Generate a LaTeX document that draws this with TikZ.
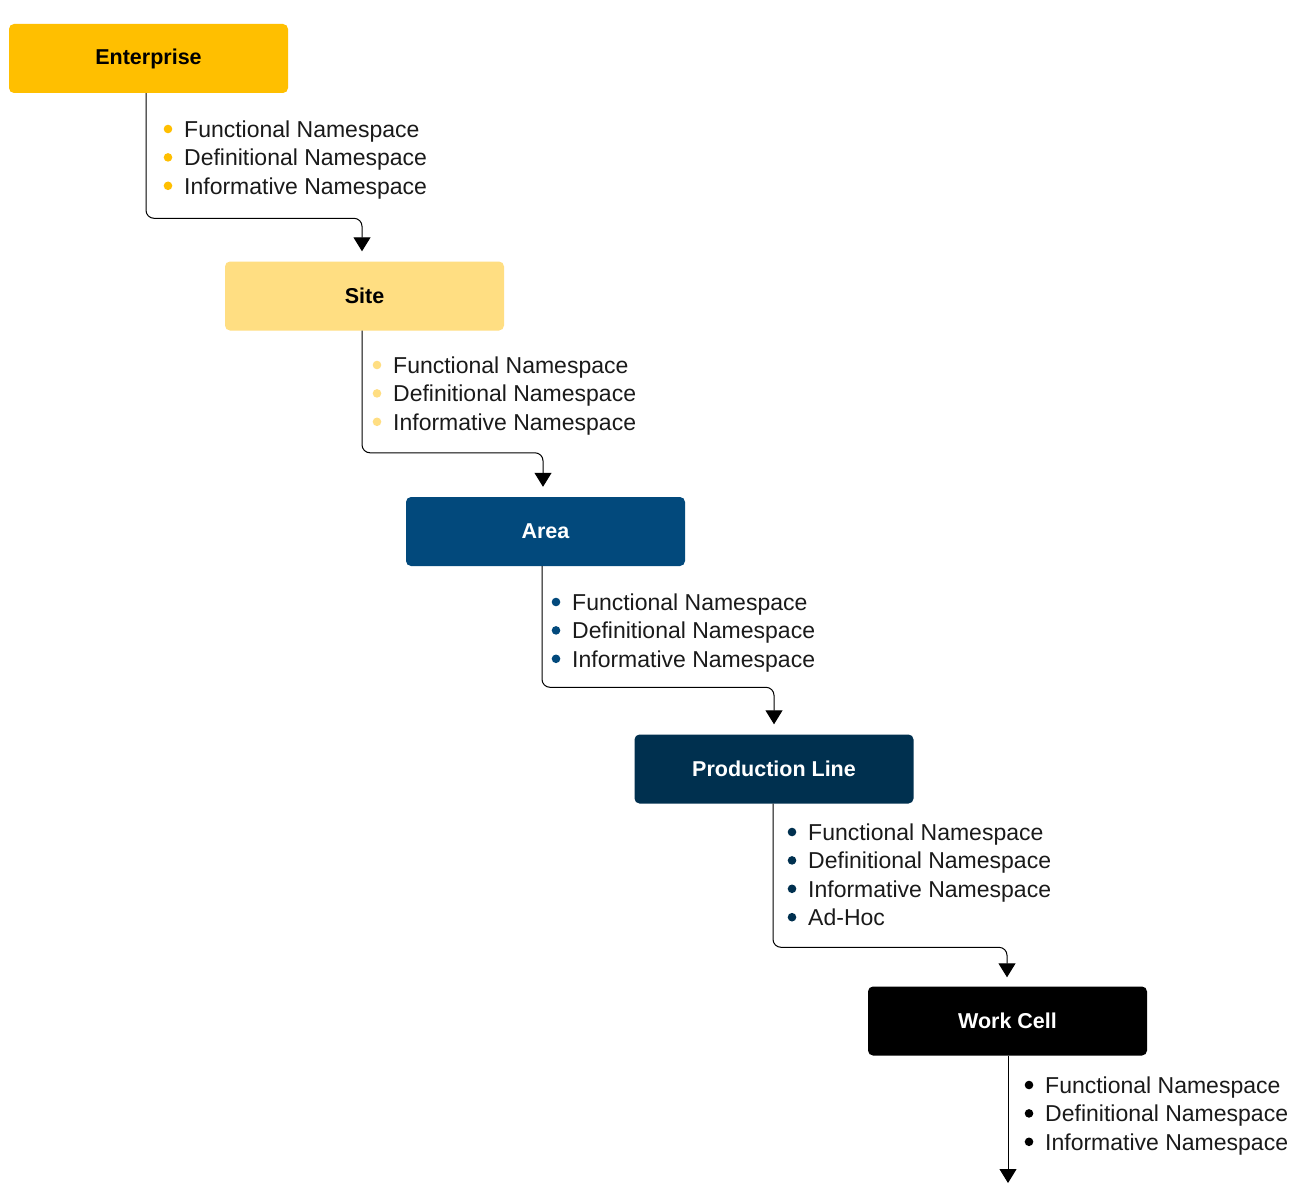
\documentclass[tikz,border=0pt]{standalone}
\usepackage{fontspec}
\setmainfont{Liberation Sans}
\usetikzlibrary{arrows.meta}
\definecolor{cEnt}{HTML}{FFBF00}
\definecolor{cSite}{HTML}{FFDE82}
\definecolor{cArea}{HTML}{02497C}
\definecolor{cPL}{HTML}{00304F}
\definecolor{cWC}{HTML}{000000}
\definecolor{txt}{HTML}{1A1A1A}
\tikzset{
  levelbox/.style={rounded corners=5pt, minimum width=279pt, minimum height=69pt, inner sep=0pt,
    font=\fontsize{21.5}{26}\selectfont\bfseries},
  itemtext/.style={anchor=west, inner sep=0pt, text height=16.5pt, text depth=0pt, text=txt,
    font=\fontsize{23}{28}\selectfont},
  conn/.style={draw=black, line width=1pt, rounded corners=8pt, -{Triangle[width=17pt,length=14pt]}},
}
\newcommand{\mylist}[5]{%
  % #1 prefix, #2 bullet x, #3 first y, #4 colour, #5 list of items
  \foreach \t [count=\i] in {#5} {
    \pgfmathsetmacro{\yy}{#3+(\i-1)*28.4}
    \fill[#4] (#2,\yy) circle (4.3pt);
    \node[itemtext] (#1\i) at (#2+16,\yy) {\t};
  }%
}
\begin{document}
\begin{tikzpicture}[x=1pt,y=-1pt]
\useasboundingbox (0,0) rectangle (1308,1201);
\fill[white] (0,0) rectangle (1308,1201);

\node[levelbox, fill=cEnt, text=black] (ent) at (148.5,58.5) {Enterprise};
\node[levelbox, fill=cSite, text=black] (site) at (364.5,296) {Site};
\node[levelbox, fill=cArea, text=white] (area) at (545.5,531.5) {Area};
\node[levelbox, fill=cPL, text=white] (pl) at (774,769) {Production Line};
\node[levelbox, fill=cWC, text=white] (wc) at (1007.5,1021) {Work Cell};

\mylist{el}{168}{129}{cEnt}{Functional Namespace,Definitional Namespace,Informative Namespace}
\mylist{sl}{377}{365}{cSite}{Functional Namespace,Definitional Namespace,Informative Namespace}
\mylist{al}{556}{602}{cArea}{Functional Namespace,Definitional Namespace,Informative Namespace}
\mylist{pll}{792}{832}{cPL}{Functional Namespace,Definitional Namespace,Informative Namespace,Ad-Hoc}
\mylist{wl}{1029}{1085}{cWC}{Functional Namespace,Definitional Namespace,Informative Namespace}

\draw[conn] ([xshift=-2.5pt]ent.south) |- ([xshift=-2.5pt,yshift=43pt]site.north) -- ([xshift=-2.5pt,yshift=10pt]site.north);
\draw[conn] ([xshift=-2.5pt]site.south) |- ([xshift=-2.5pt,yshift=44pt]area.north) -- ([xshift=-2.5pt,yshift=10pt]area.north);
\draw[conn] ([xshift=-3.5pt]area.south) |- ([yshift=47pt]pl.north) -- ([yshift=10pt]pl.north);
\draw[conn] ([xshift=-1pt]pl.south) |- ([xshift=-0.5pt,yshift=39pt]wc.north) -- ([xshift=-0.5pt,yshift=9pt]wc.north);
\coordinate (endpt) at (1008,1183);
\draw[conn] ([xshift=0.5pt]wc.south) -- (endpt);
\end{tikzpicture}
\end{document}
